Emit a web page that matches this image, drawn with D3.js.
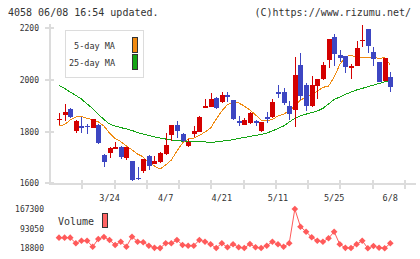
<!DOCTYPE html>
<html>
<head>
<meta charset="utf-8">
<script src="https://cdn.jsdelivr.net/npm/d3@7"></script>
<style>
body { margin: 0; background: #fff; }
text { font-family: "DejaVu Sans Mono", monospace; fill: #333; }
</style>
</head>
<body>
<div id="chart"></div>
<script>
// trading days shown (2020)
var dates = ["3/10","3/11","3/12","3/13","3/16","3/17","3/18","3/19","3/23","3/24",
    "3/25","3/26","3/27","3/30","3/31","4/1","4/2","4/3","4/6","4/7",
    "4/8","4/9","4/10","4/13","4/14","4/15","4/16","4/17","4/20","4/21",
    "4/22","4/23","4/24","4/27","4/28","4/30","5/1","5/7","5/8","5/11",
    "5/12","5/13","5/14","5/15","5/18","5/19","5/20","5/21","5/22","5/25",
    "5/26","5/27","5/28","5/29","6/1","6/2","6/3","6/4","6/5","6/8"];

var opens = [1847,1864,1887,1803,1820,1822,1815,1825,1709,1718,
    1733,1741,1699,1686,1622,1648,1706,1675,1684,1713,
    1787,1825,1790,1744,1790,1799,1892,1896,1930,1915,
    1941,1921,1840,1825,1834,1840,1803,1857,1855,1954,
    1951,1898,1883,2056,1979,1898,1977,2002,2077,2164,
    2095,2091,2050,2054,2150,2195,2105,2067,1996,2009];
var highs = [1870,1906,1890,1843,1857,1828,1848,1828,1712,1741,
    1758,1744,1741,1688,1664,1694,1710,1707,1722,1793,
    1825,1840,1795,1770,1821,1859,1924,1950,1933,1953,
    1951,1921,1860,1851,1876,1844,1838,1876,1925,1979,
    1966,1918,2086,2101,1986,2014,2002,2067,2156,2175,
    2114,2091,2060,2149,2210,2195,2124,2067,2082,2028];
var lows = [1825,1842,1852,1795,1795,1789,1815,1752,1664,1699,
    1733,1694,1690,1610,1613,1641,1651,1675,1680,1709,
    1763,1776,1761,1741,1778,1799,1892,1896,1887,1909,
    1915,1844,1821,1825,1829,1821,1799,1832,1851,1928,
    1902,1844,1819,1921,1879,1895,1925,1998,2046,2054,
    2069,2027,2001,2054,2127,2101,2054,1990,1996,1953];
var closes = [1849,1877,1857,1840,1815,1817,1847,1755,1681,1738,
    1741,1703,1741,1613,1616,1694,1668,1686,1718,1748,
    1825,1802,1763,1761,1802,1855,1898,1924,1889,1941,
    1932,1847,1832,1845,1870,1832,1838,1848,1915,1945,
    1909,1867,2018,1937,1898,1979,2002,2056,2156,2099,
    2084,2050,2052,2123,2153,2131,2078,1992,2082,1973];

var ma5 = [1821,1827,1844,1856,1858,1850,1846,1837,1821,1794,
    1773,1761,1744,1729,1713,1702,1680,1667,1655,1671,
    1690,1725,1756,1771,1775,1785,1798,1813,1848,1879,
    1904,1912,1910,1898,1883,1864,1844,1842,1846,1860,
    1867,1879,1898,1921,1933,1941,1956,1970,1975,2010,
    2058,2087,2095,2085,2085,2087,2087,2081,2085,2056];
var ma25 = [1977,1966,1952,1939,1925,1906,1889,1867,1846,1829,
    1821,1815,1810,1804,1796,1790,1785,1779,1775,1771,
    1767,1765,1763,1761,1761,1761,1760,1758,1760,1763,
    1765,1769,1773,1777,1781,1785,1788,1794,1802,1812,
    1821,1837,1850,1860,1867,1873,1879,1889,1906,1923,
    1933,1943,1952,1960,1966,1973,1979,1985,1991,1997];

var volumes = [58900,58900,58900,37700,47500,47500,24800,53900,61500,50200,
    31300,43700,24800,62600,43700,41500,28600,20500,19500,37700,
    37700,50200,31300,28600,28600,50200,43700,33900,20000,37700,
    22600,33900,22600,19800,35000,22600,20000,28600,43700,33900,
    24800,37700,167300,100400,81500,60400,47500,43700,56600,81500,
    33900,20500,20000,33900,47500,18800,27500,21000,18800,37700];

var dateTicks = ["3/24","4/7","4/21","5/11","5/25","6/8"];
var priceTicks = [1600, 1800, 2000, 2200];
var volTicks = [18800, 93050, 167300];

var width = 420,
    height = 259;

var svg = d3.select("#chart")
    .append("svg")
    .attr("width", width)
    .attr("height", height)

var red = "#d40000",
    blue = "#3d46c2",
    axisColor = "#dcdcdc"

var x = d3.scalePoint().domain(dates).range([59, 390.3])
var y = d3.scaleLinear().domain([1600, 2200]).range([183.4, 27.7])
var yv = d3.scaleLinear().domain([18800, 167300]).range([248.3, 209])
var grid = d3.scaleLinear().domain([0, 11]).range([50, 405])

// header
svg.append("text").attr("x", 8).attr("y", 16)
    .style("font-size", "10px").text("4058 06/08 16:54 updated.")
svg.append("text").attr("x", 411).attr("y", 16)
    .attr("text-anchor", "end")
    .style("font-size", "10px").text("(C)https://www.rizumu.net/")

// axes
var ax = svg.append("g").attr("shape-rendering", "crispEdges")
ax.append("line").attr("x1", 50).attr("x2", 50).attr("y1", 24).attr("y2", 185)
    .attr("stroke", axisColor).attr("stroke-width", 2)
ax.append("line").attr("x1", 50).attr("x2", 416).attr("y1", 184).attr("y2", 184)
    .attr("stroke", axisColor).attr("stroke-width", 2)

ax.selectAll(".ytick").data(priceTicks).enter().append("line")
    .attr("x1", 45).attr("x2", 54)
    .attr("y1", function (d) { return Math.round(y(d)) })
    .attr("y2", function (d) { return Math.round(y(d)) })
    .attr("stroke", axisColor).attr("stroke-width", 2)

ax.selectAll(".xtick").data(d3.range(1, 12)).enter().append("line")
    .attr("x1", function (d) { return Math.round(grid(d)) })
    .attr("x2", function (d) { return Math.round(grid(d)) })
    .attr("y1", 180).attr("y2", 189)
    .attr("stroke", axisColor).attr("stroke-width", 2)

svg.selectAll(".ylabel").data(priceTicks).enter().append("text")
    .attr("x", 39).attr("y", function (d) { return y(d) + 3 })
    .attr("text-anchor", "end")
    .style("font-size", "8px")
    .text(function (d) { return d })

svg.selectAll(".xlabel").data(dateTicks).enter().append("text")
    .attr("x", function (d) { return x(d) })
    .attr("y", 201)
    .attr("text-anchor", "middle")
    .style("font-size", "8.5px")
    .text(function (d) { return d })

// moving averages
var maLine = d3.line()
    .x(function (d, i) { return x(dates[i]) })
    .y(function (d) { return y(d) })

svg.append("path").datum(ma25)
    .attr("d", maLine)
    .attr("fill", "none").attr("stroke", "#14a514").attr("stroke-width", 1)
    .attr("shape-rendering", "crispEdges")
svg.append("path").datum(ma5)
    .attr("d", maLine)
    .attr("fill", "none").attr("stroke", "#f08a10").attr("stroke-width", 1)
    .attr("shape-rendering", "crispEdges")

// candles
var candles = dates.map(function (d, i) {
    return { date: d, o: opens[i], h: highs[i], l: lows[i], c: closes[i] }
})

var cg = svg.append("g").attr("shape-rendering", "crispEdges")
var candle = cg.selectAll(".candle").data(candles).enter().append("g")

candle.append("line")
    .attr("x1", function (d) { return Math.round(x(d.date)) + 0.5 })
    .attr("x2", function (d) { return Math.round(x(d.date)) + 0.5 })
    .attr("y1", function (d) { return y(d.h) })
    .attr("y2", function (d) { return y(d.l) })
    .attr("stroke", function (d) { return d.c >= d.o ? red : blue })
    .attr("stroke-width", 1)

candle.append("rect")
    .attr("x", function (d) { return Math.round(x(d.date)) - 2 })
    .attr("width", 5)
    .attr("y", function (d) { return y(Math.max(d.o, d.c)) })
    .attr("height", function (d) { return Math.max(1.5, Math.abs(y(d.o) - y(d.c))) })
    .attr("fill", function (d) { return d.c >= d.o ? red : blue })

// legend
var lg = svg.append("g").attr("shape-rendering", "crispEdges")
lg.append("rect").attr("x", 65.5).attr("y", 30.5).attr("width", 78).attr("height", 47)
    .attr("fill", "#fff").attr("stroke", axisColor)
lg.append("text").attr("x", 115).attr("y", 49).attr("text-anchor", "end")
    .style("font-size", "8.5px").text("5-day MA")
lg.append("text").attr("x", 115).attr("y", 65.5).attr("text-anchor", "end")
    .style("font-size", "8.5px").text("25-day MA")
lg.append("rect").attr("x", 132.5).attr("y", 37.5).attr("width", 5).attr("height", 15)
    .attr("fill", "#f08a10").attr("stroke", "#333")
lg.append("rect").attr("x", 132.5).attr("y", 54.5).attr("width", 5).attr("height", 15)
    .attr("fill", "#14a514").attr("stroke", "#333")

// volume
svg.selectAll(".vlabel").data(volTicks).enter().append("text")
    .attr("x", 44).attr("y", function (d) { return yv(d) + 3 })
    .attr("text-anchor", "end")
    .style("font-size", "8px")
    .text(function (d) { return d })

svg.append("text").attr("x", 58).attr("y", 225)
    .style("font-size", "10px").text("Volume")
svg.append("rect").attr("x", 102.5).attr("y", 213.5).attr("width", 5).attr("height", 14)
    .attr("fill", "#ff6464").attr("stroke", "#333")
    .attr("shape-rendering", "crispEdges")

var volLine = d3.line()
    .x(function (d, i) { return x(dates[i]) })
    .y(function (d) { return yv(d) })

svg.append("path").datum(volumes)
    .attr("d", volLine)
    .attr("fill", "none").attr("stroke", "#ff5a5a").attr("stroke-width", 1)

svg.selectAll(".vmark").data(volumes).enter().append("path")
    .attr("d", d3.symbol().type(d3.symbolSquare).size(22))
    .attr("transform", function (d, i) {
        return "translate(" + x(dates[i]) + "," + yv(d) + ") rotate(45)"
    })
    .attr("fill", "#ff5a5a")
</script>
</body>
</html>
